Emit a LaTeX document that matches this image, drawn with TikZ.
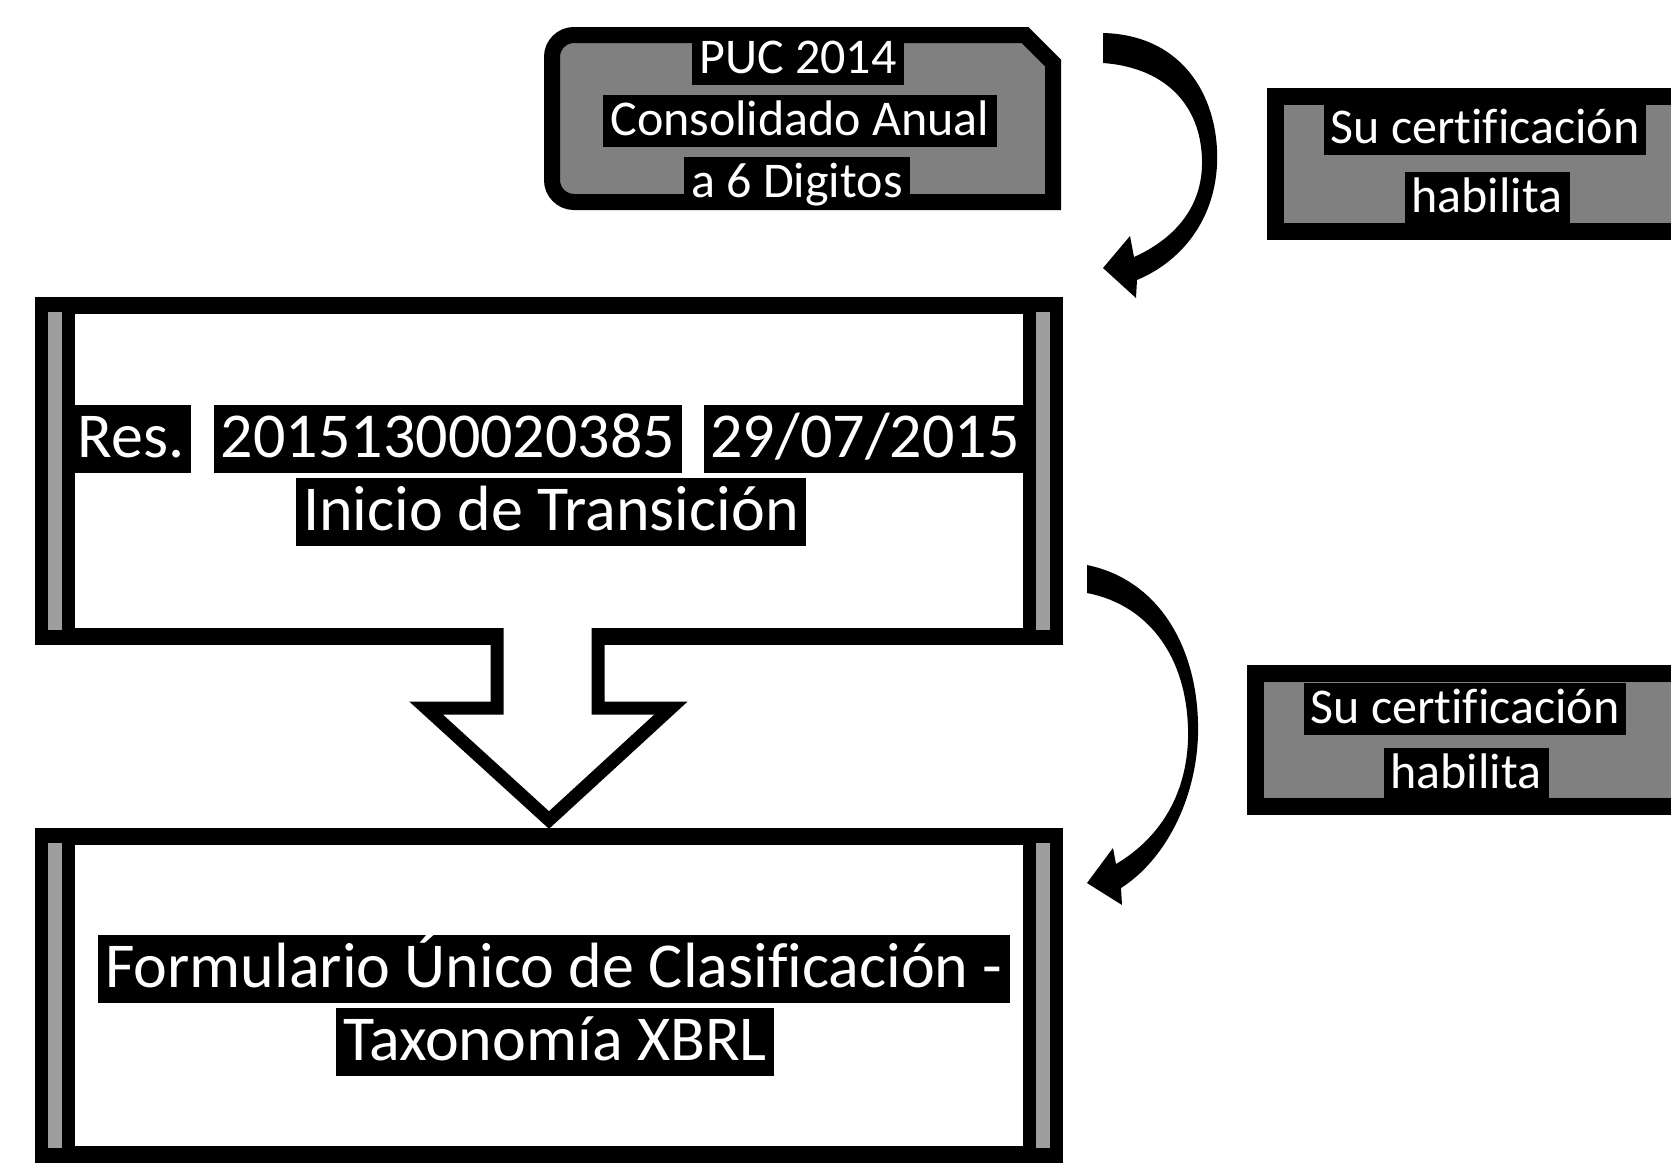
\documentclass[tikz,border=0pt]{standalone}
\usepackage{fontspec}
\setmainfont{Carlito}[Ligatures=NoCommon]
\definecolor{boxgray}{gray}{0.5}
\definecolor{stripegray}{gray}{0.62}
\begin{document}
\begin{tikzpicture}[x=1pt,y=-1pt,
  hl/.style={fill=black, text=white, inner xsep=7pt, inner ysep=0pt, anchor=base},
  bigtxt/.style={font=\fontsize{64}{70}\selectfont, text height=52pt, text depth=16pt},
  medtxt/.style={font=\fontsize{50}{56}\selectfont, text height=40pt, text depth=12pt},
  mainbox/.style={draw=black, line width=17pt, fill=white, inner sep=0pt},
  graybox/.style={draw=black, line width=16pt, fill=boxgray},
  bigarrow/.style={fill=black}
]
\useasboundingbox (0,0) rectangle (1671,1167);
\clip (0,0) rectangle (1671,1167);

% main boxes
\node[mainbox, minimum width=1011pt, minimum height=331pt] (res) at (549,471) {};
\node[mainbox, minimum width=1011pt, minimum height=318pt] (form) at (549,995.5) {};
% side stripes of main boxes
\foreach \ya/\yb in {297/645, 828/1163}{
  \fill[black] (35,\ya) rectangle (75,\yb);
  \fill[stripegray] (48,\ya+15) rectangle (62,\yb-15);
  \fill[black] (1023,\ya) rectangle (1063,\yb);
  \fill[stripegray] (1036,\ya+15) rectangle (1050,\yb-15);
}

% down block arrow
\fill[white] (497,626) -- (497,708) -- (426,708) -- (549,820) -- (671,708) -- (598,708) -- (598,626) -- cycle;
\draw[line width=13pt, line join=miter] (497,628) -- (497,708) -- (426,708) -- (549,820) -- (671,708) -- (598,708) -- (598,628);

% top box
\draw[graybox] (800,35) [rounded corners=22pt] -- (552,35) -- (552,202) [sharp corners] -- (1053,202) -- (1053,63) -- (1025,35) -- cycle;
\node[hl,medtxt] (puc1) at (798,73) {PUC 2014};
\node[hl,medtxt] (puc2) at (800,135) {Consolidado Anual};
\node[hl,medtxt] (puc3) at (797,197) {a 6 Digitos};

% right boxes
\draw[graybox, line width=17pt] (1275.5,96.5) rectangle (1720,231.5);
\draw[graybox, line width=17pt] (1255.5,673.5) rectangle (1720,806.5);
\node[hl,medtxt] (c1a) at (1485,143) {Su certificación};
\node[hl,medtxt] (c1b) at (1487,212) {habilita};
\node[hl,medtxt] (c2a) at (1465,723) {Su certificación};
\node[hl,medtxt] (c2b) at (1466,788) {habilita};

% main box texts
\node[hl,bigtxt] (r1) at (131,457) {Res.};
\node[hl,bigtxt] (r2) at (448,457) {20151300020385};
\node[hl,bigtxt] (r3) at (865,457) {29/07/2015};
\node[hl,bigtxt] (r4) at (551,530) {Inicio de Transición};
\node[hl,bigtxt] (f1) at (554,987) {Formulario Único de Clasificación -};
\node[hl,bigtxt] (f2) at (555,1060) {Taxonomía XBRL};

% curved arrows
\fill[bigarrow] (1103,33) .. controls (1185,35) and (1220,100) .. (1217,165)
  .. controls (1214,222) and (1180,262) .. (1137,280)
  -- (1136,298) -- (1103,268) -- (1130,236) -- (1134,257)
  .. controls (1172,240) and (1201,210) .. (1202,165)
  .. controls (1203,110) and (1170,68) .. (1103,63) -- cycle;
\fill[bigarrow] (1087,565) .. controls (1160,580) and (1200,650) .. (1198,735)
  .. controls (1196,800) and (1165,860) .. (1121,888)
  -- (1122,905) -- (1087,883) -- (1113,848) -- (1116,864)
  .. controls (1160,838) and (1186,795) .. (1188,740)
  .. controls (1190,660) and (1150,605) .. (1087,593) -- cycle;
\end{tikzpicture}
\end{document}
